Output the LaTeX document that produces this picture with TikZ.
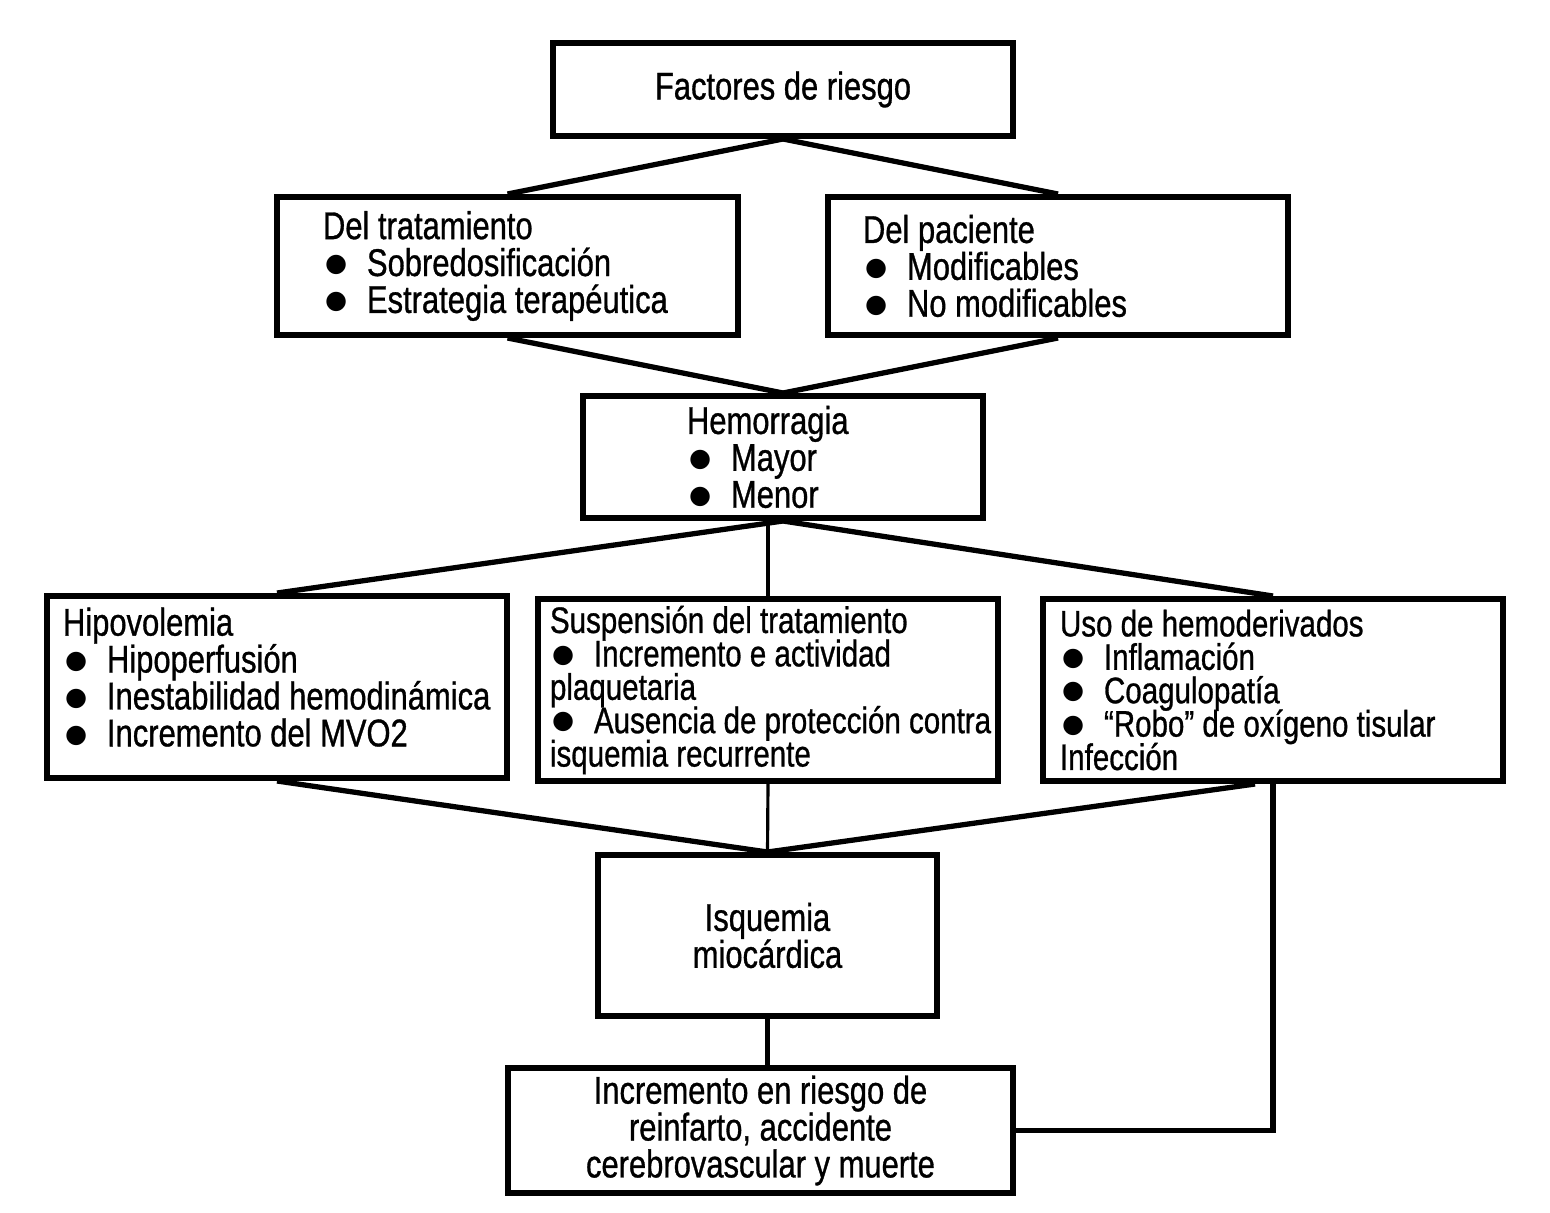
\documentclass[tikz,border=0pt]{standalone}
\usepackage{fontspec}
\setmainfont[FakeStretch=0.8,FakeBold=0.8]{Liberation Sans}
\newfontfamily\simb{DejaVu Sans}
\usetikzlibrary{positioning}

% bullet line that never breaks
\newcommand{\vin}[1]{\mbox{\makebox[0.44cm][l]{\hspace{0.02cm}\raisebox{1.2pt}{\simb\fontsize{7.2}{6}\selectfont ●}}#1}}
\newcommand{\sinsalto}{\lineskiplimit=-20pt\relax}

\tikzset{
	caja/.style={draw, line width=1.7pt, inner ysep=0pt, font=\fontsize{11}{10.5}\selectfont\sinsalto},
	lista/.style 2 args={caja, align=flush left, inner xsep=#1, text width=#2},
	apretada/.style={font=\fontsize{10.5}{9.5}\selectfont\sinsalto},
	linea/.style={line width=1.5pt},
	fina/.style={line width=0.9pt}
}

\begin{document}
\begin{tikzpicture}
	\useasboundingbox (0,0) rectangle (15.5,-12.12);

	\node[caja, minimum width=4.6cm, minimum height=0.93cm] (fact) at (7.83,-0.895) {Factores de riesgo};

	\node[lista={0.46cm}{3.69cm}, minimum height=1.38cm] (trat) at (5.075,-2.66)
		{Del tratamiento\\ \vin{Sobredosificación}\\ \vin{Estrategia terapéutica}};
	\node[lista={0.35cm}{3.9cm}, minimum height=1.38cm] (pac) at (10.58,-2.66)
		{Del paciente\\ \vin{Modificables}\\ \vin{No modificables}};

	\node[lista={1.04cm}{1.92cm}, minimum height=1.22cm] (hem) at (7.83,-4.57)
		{Hemorragia\\ \vin{Mayor}\\ \vin{Menor}};

	\node[lista={0.16cm}{4.28cm}, minimum height=1.82cm] (hipo) at (2.77,-6.87)
		{Hipovolemia\\ \vin{Hipoperfusión}\\ \vin{Inestabilidad hemodinámica}\\ \vin{Incremento del MVO2}\\[-4.8pt]\mbox{}};
	\node[lista={0.12cm}{4.36cm}, apretada, minimum height=1.82cm] (susp) at (7.68,-6.9)
		{Suspensión del tratamiento\\ \vin{Incremento e actividad}\\ plaquetaria\\ \vin{Ausencia de protección contra}\\ isquemia recurrente};
	\node[lista={0.17cm}{4.26cm}, apretada, minimum height=1.82cm] (uso) at (12.73,-6.9)
		{Uso de hemoderivados\\ \vin{Inflamación}\\ \vin{Coagulopatía}\\ \vin{“Robo” de oxígeno tisular}\\ Infección};

	\node[caja, align=center, minimum width=3.39cm, minimum height=1.61cm] (isq) at (7.675,-9.355)
		{Isquemia\\ miocárdica};
	\node[caja, align=center, minimum width=5.05cm, minimum height=1.25cm] (inc) at (7.605,-11.305)
		{Incremento en riesgo de\\ reinfarto, accidente\\ cerebrovascular y muerte};

	\draw[linea] (fact.south) -- (trat.north);
	\draw[linea] (fact.south) -- (pac.north);
	\draw[linea] (trat.south) -- (hem.north);
	\draw[linea] (pac.south) -- (hem.north);
	\draw[linea] (hem.south) -- (hipo.north);
	\draw[fina] (susp.north |- hem.south) -- (susp.north);
	\draw[linea] (hem.south) -- (uso.north);
	\draw[linea] (hipo.south) -- (isq.north);
	\draw[fina] (susp.south) -- (isq.north);
	\draw[linea] ([xshift=-0.18cm]uso.south) -- (isq.north);
	\draw[linea] (uso.south) |- (inc.east);
	\draw[linea] (isq.south) -- (isq.south |- inc.north);
\end{tikzpicture}
\end{document}
